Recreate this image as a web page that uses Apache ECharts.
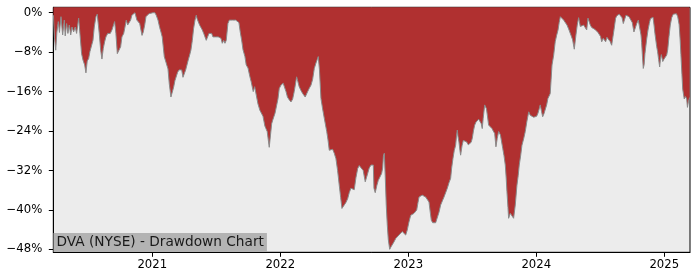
<!DOCTYPE html>
<html>
<head>
<meta charset="utf-8">
<script src="https://cdn.jsdelivr.net/npm/echarts@6/dist/echarts.min.js"></script>
<style>
html,body{margin:0;padding:0;background:#fff;}
#chart{width:700px;height:280px;}
</style>
</head>
<body>
<div id="chart"></div>
<script>
// Dates as decimal years
var dateYears = [
2020.228,2020.236,2020.246,2020.255,2020.266,2020.275,2020.287,2020.300,2020.313,2020.320,
2020.331,2020.341,2020.352,2020.363,2020.373,2020.386,2020.398,2020.409,2020.425,2020.435,
2020.448,2020.459,2020.472,2020.482,2020.492,2020.503,2020.513,2020.527,2020.537,2020.547,
2020.560,2020.570,2020.578,2020.586,2020.597,2020.607,2020.617,2020.628,2020.638,2020.652,
2020.662,2020.672,2020.685,2020.695,2020.706,2020.716,2020.727,2020.740,2020.753,2020.763,
2020.777,2020.787,2020.797,2020.808,2020.818,2020.831,2020.841,2020.852,2020.865,2020.873,
2020.880,2020.891,2020.902,2020.912,2020.920,2020.930,2020.941,2020.951,2020.961,2020.974,
2020.988,2021.005,2021.021,2021.031,2021.045,2021.058,2021.068,2021.078,2021.086,2021.094,
2021.102,2021.113,2021.123,2021.133,2021.146,2021.156,2021.167,2021.177,2021.188,2021.198,
2021.209,2021.219,2021.230,2021.240,2021.250,2021.261,2021.271,2021.281,2021.292,2021.302,
2021.313,2021.323,2021.334,2021.344,2021.349,2021.359,2021.370,2021.380,2021.391,2021.402,
2021.412,2021.422,2021.433,2021.443,2021.453,2021.464,2021.474,2021.484,2021.495,2021.505,
2021.516,2021.527,2021.537,2021.547,2021.558,2021.568,2021.578,2021.591,2021.602,2021.615,
2021.628,2021.638,2021.652,2021.664,2021.677,2021.688,2021.698,2021.709,2021.724,2021.734,
2021.748,2021.763,2021.773,2021.789,2021.800,2021.810,2021.826,2021.841,2021.852,2021.865,
2021.880,2021.888,2021.898,2021.914,2021.923,2021.933,2021.941,2021.959,2021.969,2021.982,
2021.992,2022.005,2022.016,2022.023,2022.031,2022.045,2022.056,2022.068,2022.084,2022.097,
2022.109,2022.128,2022.138,2022.148,2022.162,2022.175,2022.185,2022.195,2022.214,2022.227,
2022.240,2022.253,2022.266,2022.279,2022.289,2022.297,2022.306,2022.318,2022.331,2022.344,
2022.363,2022.373,2022.383,2022.396,2022.409,2022.422,2022.435,2022.448,2022.461,2022.472,
2022.482,2022.492,2022.500,2022.513,2022.527,2022.539,2022.552,2022.566,2022.578,2022.591,
2022.605,2022.617,2022.630,2022.648,2022.664,2022.673,2022.683,2022.695,2022.709,2022.727,
2022.732,2022.742,2022.755,2022.766,2022.777,2022.792,2022.800,2022.806,2022.813,2022.820,
2022.828,2022.836,2022.844,2022.855,2022.865,2022.875,2022.888,2022.902,2022.914,2022.927,
2022.941,2022.953,2022.966,2022.980,2022.992,2023.005,2023.019,2023.031,2023.045,2023.055,
2023.066,2023.076,2023.084,2023.097,2023.109,2023.123,2023.136,2023.148,2023.162,2023.172,
2023.180,2023.191,2023.201,2023.214,2023.227,2023.240,2023.253,2023.266,2023.279,2023.292,
2023.305,2023.318,2023.331,2023.339,2023.349,2023.359,2023.370,2023.377,2023.383,2023.388,
2023.396,2023.404,2023.409,2023.420,2023.430,2023.443,2023.456,2023.469,2023.482,2023.491,
2023.500,2023.509,2023.519,2023.529,2023.539,2023.550,2023.560,2023.570,2023.578,2023.585,
2023.597,2023.611,2023.628,2023.641,2023.654,2023.664,2023.675,2023.685,2023.695,2023.706,
2023.720,2023.738,2023.748,2023.758,2023.765,2023.771,2023.779,2023.784,2023.797,2023.810,
2023.823,2023.836,2023.849,2023.859,2023.867,2023.878,2023.888,2023.902,2023.914,2023.927,
2023.941,2023.953,2023.966,2023.980,2023.992,2024.003,2024.013,2024.023,2024.031,2024.041,
2024.050,2024.060,2024.070,2024.081,2024.091,2024.101,2024.109,2024.116,2024.123,2024.136,
2024.148,2024.159,2024.170,2024.179,2024.188,2024.198,2024.214,2024.227,2024.240,2024.253,
2024.266,2024.284,2024.297,2024.310,2024.320,2024.331,2024.344,2024.357,2024.370,2024.383,
2024.394,2024.404,2024.413,2024.422,2024.433,2024.445,2024.459,2024.472,2024.482,2024.492,
2024.502,2024.511,2024.523,2024.533,2024.542,2024.552,2024.564,2024.576,2024.589,2024.597,
2024.607,2024.620,2024.630,2024.641,2024.648,2024.659,2024.670,2024.680,2024.688,2024.701,
2024.711,2024.724,2024.738,2024.750,2024.763,2024.773,2024.785,2024.797,2024.810,2024.818,
2024.823,2024.830,2024.836,2024.843,2024.849,2024.863,2024.873,2024.883,2024.892,2024.902,
2024.912,2024.920,2024.927,2024.941,2024.948,2024.956,2024.964,2024.970,2024.977,2024.988,
2024.998,2025.008,2025.019,2025.027,2025.037,2025.047,2025.058,2025.070,2025.084,2025.095,
2025.105,2025.116,2025.124,2025.130,2025.138,2025.144,2025.150,2025.156,2025.166,2025.175,
2025.181,2025.189,2025.198
];

// Drawdown in percent
var drawdownPct = [
-0.5,-5,-7.6,-3.9,-1.8,-4.0,-0.8,-4.5,-1.5,-4.7,
-2.2,-4.2,-2.5,-4.5,-2.9,-3.9,-2.9,-4.2,-1.1,-4.2,
-8.3,-9.6,-10.6,-12.2,-9.8,-9.3,-7.9,-7.7,-5.6,-2.9,
-0.8,-0.3,-2.2,-4.2,-7.6,-9.4,-7.3,-5.9,-4.9,-4.2,
-3.9,-4.2,-3.5,-3.2,-1.8,-4.2,-8.3,-8.1,-6.9,-4.9,
-4.2,-2.9,-1.5,-2.5,-2.9,-1.5,-0.5,-0.3,0,0,
-1.5,-1.8,-2.2,-2.5,-4.6,-3.9,-2.5,-0.8,-0.5,-0.2,
-0.2,0,0,-0.5,-1.5,-3.0,-3.9,-4.9,-6.9,-8.9,
-9.6,-9.8,-11.4,-14.4,-17.1,-16.8,-15.1,-13.8,-13.5,-12.1,
-11.6,-12.0,-11.6,-13.1,-13.4,-11.6,-10.6,-9.6,-8.6,-7.6,
-5.6,-3.2,-1.5,-0.5,-1.1,-1.8,-2.5,-2.8,-3.5,-4.2,
-4.9,-5.6,-5.2,-4.2,-3.9,-4.2,-4.9,-4.6,-4.9,-4.6,
-4.9,-4.6,-5.2,-6.2,-5.6,-6.2,-5.6,-2.2,-1.5,-1.1,
-1.5,-1.1,-1.5,-1.3,-2.0,-4.0,-5.5,-7.5,-8.9,-10.6,
-11.2,-13.0,-14.0,-16.0,-15.0,-14.7,-18.5,-19.8,-20.1,-21.0,
-23.0,-23.5,-24.1,-27.3,-25.0,-22.5,-21.8,-20.4,-20.0,-17.5,
-15.4,-14.7,-15.0,-14.3,-14.3,-16.0,-17.1,-17.6,-18.1,-17.5,
-16.0,-13.0,-14.0,-15.0,-15.8,-16.4,-16.8,-17.1,-16.0,-15.3,
-14.7,-13.5,-11.3,-10.2,-9.5,-8.9,-11.5,-17.4,-19.5,-21.4,
-24.1,-25.8,-27.9,-27.5,-27.7,-28.5,-29.6,-32.0,-35.0,-37.5,
-39.7,-39.5,-39.0,-38.5,-37.7,-36.5,-35.6,-35.2,-35.9,-33.5,
-31.6,-31.0,-31.3,-32.0,-34.3,-33.5,-32.6,-31.5,-30.9,-30.9,
-35.6,-36.5,-35.0,-34.0,-33.6,-32.6,-31.5,-29.0,-28.5,-33.0,
-39.0,-43.0,-46.0,-48.0,-47.5,-47.2,-46.5,-45.8,-45.5,-45.1,
-44.8,-44.4,-44.8,-45.1,-44.1,-42.5,-41.1,-40.9,-40.7,-40.5,
-40.0,-38.5,-37.4,-37.2,-37.0,-37.2,-37.4,-37.8,-38.4,-40.5,
-42.1,-42.6,-42.8,-42.6,-42.5,-40.5,-39.0,-38.2,-37.4,-36.5,
-35.6,-34.5,-33.6,-31.5,-29.6,-28.0,-26.9,-25.0,-23.8,-25.0,
-26.2,-28.0,-28.9,-27.0,-25.9,-26.0,-26.2,-26.8,-27.2,-26.3,
-25.5,-24.0,-22.8,-22.2,-21.8,-21.6,-21.4,-22.5,-23.5,-21.5,
-18.7,-19.5,-22.8,-23.2,-23.5,-24.0,-24.5,-27.2,-25.5,-24.1,
-24.8,-27.5,-29.0,-30.9,-33.5,-36.3,-39.5,-41.7,-40.7,-41.0,
-41.7,-39.0,-35.0,-33.0,-30.9,-29.0,-26.9,-25.5,-24.1,-22.0,
-20.1,-20.8,-21.1,-21.2,-21.4,-21.0,-20.4,-19.5,-18.7,-20.0,
-21.1,-20.5,-20.1,-18.7,-17.4,-17.0,-16.4,-13.5,-10.6,-8.6,
-5.9,-4.6,-3.5,-2.0,-0.8,-1.2,-1.5,-2.0,-2.5,-3.3,
-4.2,-5.5,-7.4,-4.5,-2.5,-1.0,-2.8,-2.6,-2.5,-2.8,
-3.5,-1.1,-0.8,-2.5,-3.0,-3.2,-3.4,-3.5,-4.0,-4.2,
-4.8,-5.9,-5.2,-5.5,-5.9,-5.0,-5.1,-5.8,-6.6,-6.9,
-3.5,-1.1,-0.6,-0.4,-0.3,-0.6,-1.0,-2.2,-2.0,-0.5,
-0.6,-0.8,-1.2,-2.0,-3.9,-3.5,-2.2,-1.5,-1.5,-4.5,
-6.0,-9.0,-11.3,-10.5,-8.3,-5.3,-3.5,-2.2,-1.2,-0.8,
-0.9,-2.5,-4.2,-6.9,-7.9,-9.5,-11.0,-9.5,-8.5,-9.9,
-9.4,-9.0,-8.6,-7.5,-4.8,-2.5,-1.0,-0.3,0,-0.2,
-0.8,-2.4,-5.5,-8.5,-12.5,-15.5,-16.5,-17.5,-17.0,-17.5,
-19.2,-18.0,-17.2
];

var xTickYears = [2021, 2022, 2023, 2024, 2025];
var yTickValues = [-48, -40, -32, -24, -16, -8, 0];
var chartTitle = 'DVA (NYSE) - Drawdown Chart';

var seriesData = dateYears.map(function (d, i) { return [d, drawdownPct[i]]; });

var font = 'DejaVu Sans';
var chart = echarts.init(document.getElementById('chart'), null, {renderer: 'canvas'});
chart.setOption({
  animation: false,
  backgroundColor: '#ffffff',
  title: {
    text: chartTitle,
    left: 53.5,
    top: 233,
    backgroundColor: '#b3b3b3',
    padding: [2, 3, 2, 3],
    textStyle: {fontFamily: font, fontSize: 13.7, fontWeight: 'normal', color: '#1a1a1a', lineHeight: 15},
    z: 10
  },
  grid: {
    left: 53.3, right: 10, top: 7.3, bottom: 27.7,
    show: true, backgroundColor: '#ececec', borderColor: '#000', borderWidth: 1
  },
  xAxis: {
    type: 'value',
    min: 2020.227, max: 2025.201,
    axisLine: {show: true, onZero: false, lineStyle: {color: '#000', width: 1}},
    axisTick: {show: true, length: 4.5, customValues: xTickYears, lineStyle: {color: '#000'}},
    axisLabel: {customValues: xTickYears, margin: 7, color: '#000', fontFamily: font, fontSize: 11.7,
      formatter: function (v) { return String(Math.round(v)); }},
    splitLine: {show: false}
  },
  yAxis: {
    type: 'value',
    min: -48.6, max: 1.1,
    axisLine: {show: true, onZero: false, lineStyle: {color: '#000', width: 1}},
    axisTick: {show: true, length: 4.5, customValues: yTickValues, lineStyle: {color: '#000'}},
    axisLabel: {customValues: yTickValues, margin: 11, color: '#000', fontFamily: font, fontSize: 11.7,
      formatter: function (v) { return v === 0 ? '0%' : '\u2212' + Math.abs(Math.round(v)) + '%'; }},
    splitLine: {show: false}
  },
  series: [{
    type: 'line',
    data: seriesData,
    showSymbol: false,
    symbol: 'none',
    lineStyle: {color: '#8a8a8a', width: 1},
    areaStyle: {color: '#b03030', opacity: 1, origin: 'end'},
    z: 2
  }]
});
</script>
</body>
</html>
